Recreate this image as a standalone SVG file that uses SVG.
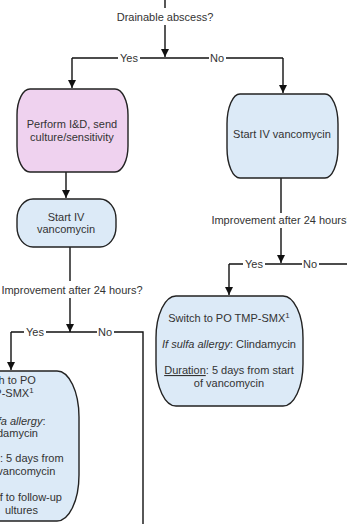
<svg xmlns="http://www.w3.org/2000/svg" width="347" height="524" viewBox="0 0 347 524">
  <style>
    .bg { fill: #ffffff; }
    .pink { fill: #EFD2EF; stroke: #222; stroke-width: 1.4; }
    .blue { fill: #DCEAF7; stroke: #222; stroke-width: 1.4; }
    .wire { fill: none; stroke: #111; stroke-width: 1.4; }
    text { font-family: "Liberation Sans", Arial, sans-serif; font-size: 11px; fill: #333; }
    .c { text-anchor: middle; }
    .e { text-anchor: end; }
    .lbl { fill: #fff; }
    .sup { font-size: 8px; }
  </style>
  <defs>
    <marker id="arrow" viewBox="0 0 10 10" refX="10" refY="5" markerWidth="8" markerHeight="8" markerUnits="userSpaceOnUse" orient="auto">
      <path d="M0,0 L10,5 L0,10 Z" fill="#111"/>
    </marker>
  </defs>
  <rect class="bg" x="0" y="0" width="347" height="524"/>

  <g id="connectors">
    <!-- top decision -->
    <path class="wire" d="M165,0 V8"/>
    <path class="wire" d="M165,25 V57" marker-end="url(#arrow)"/>
    <path class="wire" d="M72,58 H283"/>
    <path class="wire" d="M72,58 V88" marker-end="url(#arrow)"/>
    <path class="wire" d="M283,58 V93" marker-end="url(#arrow)"/>
    <!-- I&D to vancomycin -->
    <path class="wire" d="M66,172 V198" marker-end="url(#arrow)"/>
    <!-- left improvement decision -->
    <path class="wire" d="M70,247 V281"/>
    <path class="wire" d="M70,298 V332" marker-end="url(#arrow)"/>
    <path class="wire" d="M11,332 H143 V524"/>
    <path class="wire" d="M11,332 V370" marker-end="url(#arrow)"/>
    <!-- right improvement decision -->
    <path class="wire" d="M281,178 V213"/>
    <path class="wire" d="M281,228 V263" marker-end="url(#arrow)"/>
    <path class="wire" d="M229,264 H347"/>
    <path class="wire" d="M229,264 V295" marker-end="url(#arrow)"/>

    <!-- branch labels -->
    <rect class="lbl" x="118" y="51" width="22" height="13"/>
    <text class="c" x="129" y="62">Yes</text>
    <rect class="lbl" x="209" y="51" width="17" height="13"/>
    <text class="c" x="217" y="62">No</text>

    <rect class="lbl" x="24" y="325" width="22" height="13"/>
    <text class="c" x="35" y="336">Yes</text>
    <rect class="lbl" x="97" y="325" width="17" height="13"/>
    <text class="c" x="105" y="336">No</text>

    <rect class="lbl" x="243" y="257" width="22" height="13"/>
    <text class="c" x="254" y="268">Yes</text>
    <rect class="lbl" x="302" y="257" width="17" height="13"/>
    <text class="c" x="310" y="268">No</text>

    <text class="c" x="165" y="21">Drainable abscess?</text>
    <text class="c" x="72" y="294">Improvement after 24 hours?</text>
    <text class="c" x="282" y="224">Improvement after 24 hours?</text>
  </g>

  <g id="node-id">
    <rect class="pink" x="17" y="89" width="111" height="83" rx="13" ry="26"/>
    <text class="c" x="72" y="128">Perform I&amp;D, send</text>
    <text class="c" x="72" y="141">culture/sensitivity</text>
  </g>

  <g id="node-vanc-left">
    <rect class="blue" x="17" y="199" width="99" height="48" rx="16" ry="20"/>
    <text class="c" x="66" y="221">Start IV</text>
    <text class="c" x="66" y="233">vancomycin</text>
  </g>

  <g id="node-vanc-right">
    <rect class="blue" x="227" y="94" width="111" height="84" rx="13" ry="30"/>
    <text class="c" x="282" y="138">Start IV vancomycin</text>
  </g>

  <g id="node-switch-right">
    <rect class="blue" x="156" y="296" width="147" height="110" rx="20" ry="42"/>
    <text class="c" x="229" y="322">Switch to PO TMP-SMX<tspan class="sup" dy="-4">1</tspan></text>
    <text class="c" x="229" y="348"><tspan font-style="italic">If sulfa allergy</tspan>: Clindamycin</text>
    <text class="c" x="229" y="374"><tspan text-decoration="underline">Duration</tspan>: 5 days from start</text>
    <text class="c" x="229" y="387">of vancomycin</text>
  </g>

  <g id="node-switch-left">
    <rect class="blue" x="-68" y="371" width="147" height="150" rx="22" ry="46"/>
    <text class="c" x="4" y="384">Switch to PO</text>
    <text class="c" x="6" y="397">TMP-SMX<tspan class="sup" dy="-4">1</tspan></text>
    <text class="c" x="10" y="425"><tspan font-style="italic">If sulfa allergy</tspan>:</text>
    <text class="c" x="8" y="437">Clindamycin</text>
    <text class="c" x="11" y="462"><tspan text-decoration="underline">Duration</tspan>: 5 days from</text>
    <text class="c" x="8" y="475">start of vancomycin</text>
    <text class="e" x="62" y="501">f to follow-up</text>
    <text class="e" x="38" y="514">ultures</text>
  </g>
</svg>
